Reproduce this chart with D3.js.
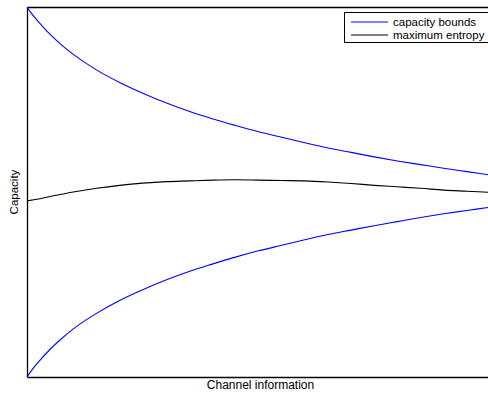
<!DOCTYPE html>
<html>
<head>
<meta charset="utf-8">
<script src="https://cdn.jsdelivr.net/npm/d3@7/dist/d3.min.js"></script>
<style>
  html, body { margin: 0; padding: 0; background: #fff; }
  svg { display: block; }
  text { font-family: "Liberation Sans", Arial, Helvetica, sans-serif; }
</style>
</head>
<body>
<script>
// Normalised channel information (x) sample positions
const channelInfo = [0, 0.01, 0.025, 0.05, 0.075, 0.1, 0.15, 0.2, 0.25, 0.3, 0.35, 0.4, 0.45,
  0.5, 0.55, 0.6, 0.65, 0.7, 0.75, 0.8, 0.85, 0.9, 0.95, 1.0];

// Upper capacity bound
const upperBound = [1.0, 0.982, 0.960, 0.926, 0.897, 0.872, 0.830, 0.796, 0.767, 0.741, 0.718,
  0.698, 0.680, 0.663, 0.648, 0.633, 0.619, 0.607, 0.595, 0.584, 0.574, 0.564, 0.555, 0.546];

// Lower capacity bound
const lowerBound = [0, 0.018, 0.041, 0.075, 0.104, 0.130, 0.172, 0.207, 0.236, 0.262, 0.285,
  0.305, 0.324, 0.341, 0.356, 0.371, 0.385, 0.397, 0.409, 0.420, 0.431, 0.441, 0.450, 0.459];

// Capacity under the maximum-entropy assumption
const maxEntropy = [0.476, 0.478, 0.481, 0.488, 0.494, 0.500, 0.510, 0.518, 0.524, 0.528, 0.530,
  0.532, 0.533, 0.532, 0.531, 0.530, 0.527, 0.523, 0.518, 0.514, 0.510, 0.505, 0.502, 0.499];

const legendLabels = ["capacity bounds", "maximum entropy"];
const legendColors = ["#0000ff", "#000000"];

const W = 488, H = 393;
const margin = { left: 27, top: 7, right: -2, bottom: 16 };

const svg = d3.select("body").append("svg")
  .attr("width", W).attr("height", H);

const x = d3.scaleLinear().domain([0, 1]).range([margin.left, W - margin.right]);
const y = d3.scaleLinear().domain([0, 1]).range([H - margin.bottom, margin.top]);

// Frame: axes with no ticks
const frame = svg.append("g");
frame.append("g").attr("transform", `translate(0,${y(0)})`)
  .call(d3.axisBottom(x).tickValues([]).tickSizeOuter(0));
frame.append("g").attr("transform", `translate(0,${y(1)})`)
  .call(d3.axisTop(x).tickValues([]).tickSizeOuter(0));
frame.append("g").attr("transform", `translate(${x(0)},0)`)
  .call(d3.axisLeft(y).tickValues([]).tickSizeOuter(0));
frame.append("g").attr("transform", `translate(${x(1)},0)`)
  .call(d3.axisRight(y).tickValues([]).tickSizeOuter(0));
frame.selectAll(".domain").attr("stroke", "#000").attr("stroke-width", 1.3);

const line = d3.line().curve(d3.curveMonotoneX);
const series = [
  { values: upperBound, color: legendColors[0] },
  { values: lowerBound, color: legendColors[0] },
  { values: maxEntropy, color: legendColors[1] }
];
svg.append("g").selectAll("path").data(series).join("path")
  .attr("fill", "none")
  .attr("stroke", d => d.color)
  .attr("stroke-width", 1.1)
  .attr("d", d => line(d.values.map((v, i) => [x(channelInfo[i]), y(v)])));

// Axis titles
svg.append("text")
  .attr("x", (x(0) + x(1)) / 2 + 2).attr("y", 389)
  .attr("text-anchor", "middle").attr("font-size", 12)
  .text("Channel information");
svg.append("text")
  .attr("transform", `translate(18,${(y(0) + y(1)) / 2}) rotate(-90)`)
  .attr("text-anchor", "middle").attr("font-size", 11.5)
  .text("Capacity");

// Legend
const lg = svg.append("g");
lg.append("rect").attr("x", 344.5).attr("y", 12.5).attr("width", 160).attr("height", 30)
  .attr("fill", "#fff").attr("stroke", "#000").attr("stroke-width", 1);
legendLabels.forEach((lab, i) => {
  const cy = 22 + i * 13;
  lg.append("line").attr("x1", 351).attr("x2", 388).attr("y1", cy).attr("y2", cy)
    .attr("stroke", legendColors[i]).attr("stroke-width", 1);
  lg.append("text").attr("x", 393).attr("y", cy + 3.8)
    .attr("font-size", 11.5).text(lab);
});
</script>
</body>
</html>
